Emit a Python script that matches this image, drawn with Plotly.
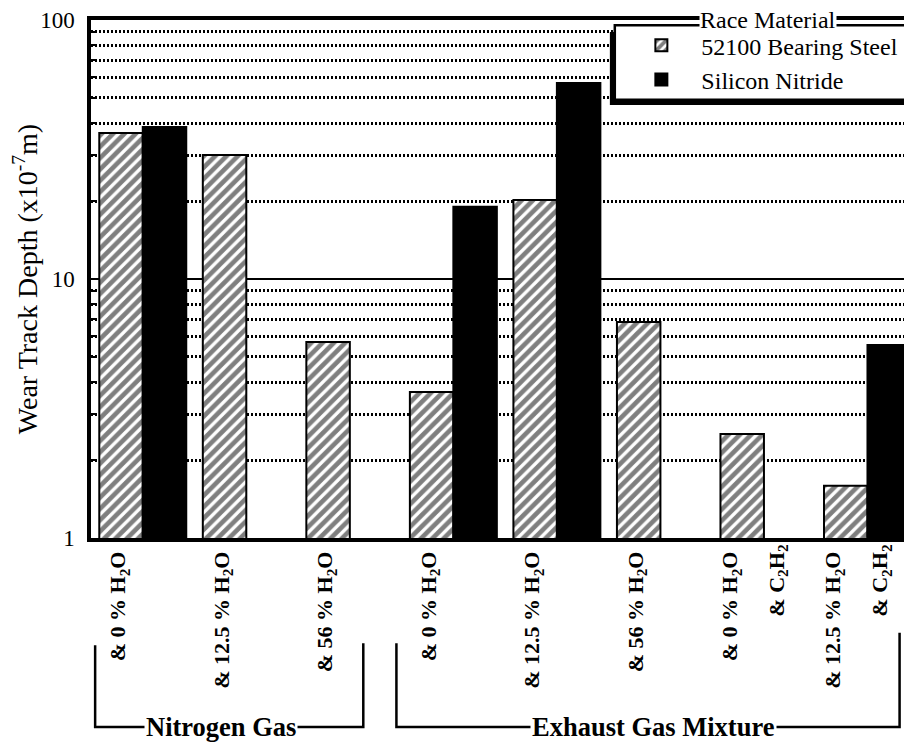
import plotly.graph_objects as go

# conditions along the x axis (first line / second line of each label)
label_line1 = [
    "& 0 % H<sub>2</sub>O", "& 12.5 % H<sub>2</sub>O", "& 56 % H<sub>2</sub>O",
    "& 0 % H<sub>2</sub>O", "& 12.5 % H<sub>2</sub>O", "& 56 % H<sub>2</sub>O",
    "& 0 % H<sub>2</sub>O", "& 12.5 % H<sub>2</sub>O",
]
label_line2 = ["", "", "", "", "", "", "& C<sub>2</sub>H<sub>2</sub>", "& C<sub>2</sub>H<sub>2</sub>"]

# wear track depth (x10^-7 m)
steel_depth = [36.6, 30.1, 5.71, 3.66, 20.2, 6.82, 2.52, 1.59]
nitride_depth = [38.6, None, None, 19.0, 57.1, None, None, 5.56]

series_names = ["52100 Bearing Steel", "Silicon Nitride"]
legend_title = "Race Material"
groups = ["Nitrogen Gas", "Exhaust Gas Mixture"]

y_ticks = [1, 10, 100]
y_minor = [2, 3, 4, 5, 6, 7, 8, 9, 20, 30, 40, 50, 60, 70, 80, 90]

SERIF = "Liberation Serif, Times New Roman, serif"
x = list(range(len(label_line1)))
x_range = [-0.5, 7.43]

fig = go.Figure()
fig.add_trace(go.Bar(
    x=x, y=steel_depth, name=series_names[0],
    marker=dict(color="white", line=dict(color="black", width=2),
                pattern=dict(shape="/", fgcolor="black", bgcolor="white",
                             size=8, solidity=0.58)),
))
fig.add_trace(go.Bar(
    x=x, y=nitride_depth, name=series_names[1],
    marker=dict(color="black", line=dict(color="black", width=2)),
))
# empty trace that carries the overlaid axis holding the second label lines
fig.add_trace(go.Bar(x=x, y=[None] * len(x), xaxis="x2", showlegend=False,
                     hoverinfo="skip"))

line1_vals = [i - (0.33 if label_line2[i] else 0.24) for i in x]
line2_vals = [i + 0.12 for i in x]

# the page body adds an 8px offset, so margins are trimmed to compensate
fig.update_layout(
    width=912, height=747,
    margin=dict(l=83, r=8, t=12, b=217, autoexpand=False),
    paper_bgcolor="white", plot_bgcolor="white",
    barmode="group", bargap=0.16, bargroupgap=0,
    font=dict(family=SERIF, color="black"),
    xaxis=dict(
        range=x_range, tickmode="array", tickvals=line1_vals, ticktext=label_line1,
        tickangle=-90, tickfont=dict(size=22, family=SERIF, weight="bold"),
        showline=True, linecolor="black", linewidth=3.5, mirror=True,
        showgrid=False, ticks="", ticklabelstandoff=1, automargin=False,
    ),
    xaxis2=dict(
        range=x_range, overlaying="x", anchor="y", side="bottom",
        tickmode="array", tickvals=line2_vals, ticktext=label_line2,
        tickangle=-90, tickfont=dict(size=22, family=SERIF, weight="bold"),
        showline=False, showgrid=False, ticks="", ticklabelstandoff=1,
        zeroline=False, automargin=False,
    ),
    yaxis=dict(
        type="log", range=[0, 2], tickmode="array", tickvals=y_ticks,
        ticktext=[str(v) for v in y_ticks],
        tickfont=dict(size=23, family=SERIF),
        showline=True, linecolor="black", linewidth=3.5, mirror=False,
        showgrid=True, gridcolor="black", gridwidth=2,
        ticks="", ticklabelstandoff=8, automargin=False,
        minor=dict(tickvals=y_minor, ticks="inside", ticklen=6, tickwidth=2,
                   tickcolor="black", showgrid=True, gridcolor="black",
                   gridwidth=2.5, griddash="2px,2px"),
        title=dict(text="Wear Track Depth (x10<sup>-7</sup>m)",
                   font=dict(size=28, family=SERIF), standoff=2),
    ),
    legend=dict(
        x=0.646, y=0.994, xanchor="left", yanchor="top",
        bgcolor="rgba(0,0,0,0)", borderwidth=0, itemwidth=70,
        font=dict(size=24, family=SERIF), traceorder="normal",
    ),
)

# legend box with drop shadow, title sitting on the top border
fig.add_shape(type="rect", xref="paper", yref="paper",
              x0=0.632, x1=1.02, y0=0.836, y1=0.977,
              fillcolor="black", line=dict(width=0))
fig.add_shape(type="rect", xref="paper", yref="paper",
              x0=0.638, x1=1.02, y0=0.846, y1=0.990,
              fillcolor="white", line=dict(color="black", width=2.5))
fig.add_annotation(text=legend_title, xref="paper", yref="paper",
                   x=0.8246, y=1.0, xanchor="center", yanchor="middle",
                   showarrow=False, bgcolor="white",
                   font=dict(size=24, family=SERIF), borderpad=0)

# group brackets under the labels
brackets = [(-0.46, 2.13, -0.207, -0.203, 0.76), (2.45, 7.31, -0.203, -0.183, 4.93)]
y_line = -0.365
for (xa, xb, ya, yb, xc), name in zip(brackets, groups):
    fig.add_shape(type="path", xref="x", yref="paper",
                  path=f"M {xa},{ya} L {xa},{y_line} L {xb},{y_line} L {xb},{yb}",
                  line=dict(color="black", width=2.5))
    fig.add_annotation(text=name, xref="x", yref="paper", x=xc, y=y_line,
                       xanchor="center", yanchor="middle", showarrow=False,
                       bgcolor="white", borderpad=1,
                       font=dict(size=26.5, family=SERIF, weight="bold"))

fig.write_html("out.html")
